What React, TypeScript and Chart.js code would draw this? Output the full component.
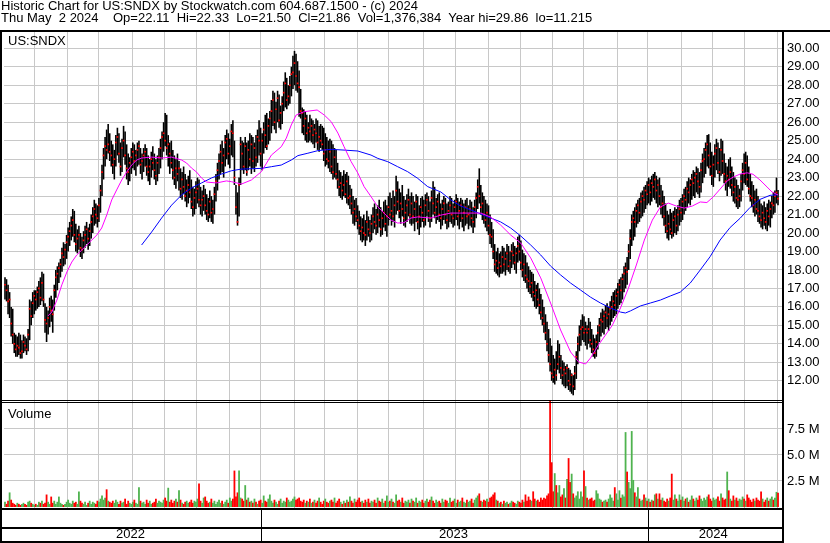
import React, { useEffect, useRef } from 'react';
import { Chart, registerables } from 'chart.js';

Chart.register(...registerables);

const FONT = "'Liberation Sans', Arial, Helvetica, sans-serif";

const headerLine1 = 'Historic Chart for US:SNDX by Stockwatch.com 604.687.1500 - (c) 2024';
const headerLine2 = 'Thu May  2 2024    Op=22.11  Hi=22.33  Lo=21.50  Cl=21.86  Vol=1,376,384  Year hi=29.86  lo=11.215';
const symbolLabel = 'US:SNDX';
const volumeLabel = 'Volume';

const highs = [
  17.6,17.5,17.2,16.8,16.0,15.9,14.6,14.5,14.4,14.6,
  14.5,14.2,14.5,14.4,14.3,14.8,16.4,16.3,16.8,16.9,
  16.9,17.1,17.4,17.6,17.9,17.8,16.2,16.0,15.8,16.5,
  16.6,16.4,17.2,18.0,18.2,18.4,18.6,19.2,19.5,19.4,
  19.9,20.3,20.6,20.9,21.3,21.2,20.5,20.2,20.4,20.0,
  19.8,20.1,20.4,20.6,20.3,20.5,21.0,21.4,21.8,21.6,
  21.5,21.9,22.6,23.7,24.6,25.2,25.6,25.9,25.4,25.0,
  24.8,24.5,25.3,25.7,25.4,24.9,25.1,25.8,25.5,24.8,
  24.3,24.1,24.6,24.9,24.8,24.5,24.9,25.0,24.6,24.3,
  24.6,24.8,24.6,24.2,24.0,24.4,24.7,24.3,24.0,24.2,
  24.6,25.1,25.5,26.0,26.5,26.4,25.3,24.9,25.0,24.5,
  24.2,24.0,24.3,23.9,23.5,23.3,23.6,23.2,22.9,23.1,
  23.4,22.9,22.5,22.4,22.8,23.0,22.9,22.5,22.3,22.6,
  22.4,22.1,21.9,22.3,22.0,21.8,22.5,23.2,23.8,24.3,
  24.8,25.0,24.6,25.3,25.6,25.4,25.1,25.9,26.1,25.0,
  22.6,22.2,23.0,25.2,25.0,24.9,25.2,24.9,25.0,25.4,
  25.3,25.2,24.9,25.3,25.6,26.1,25.7,25.4,26.0,26.4,
  26.5,26.2,26.6,27.2,27.7,27.6,27.1,27.7,27.5,26.9,
  27.4,28.2,28.7,28.4,28.0,28.5,29.0,29.6,29.86,29.7,
  29.3,28.8,27.8,26.8,26.7,26.6,26.4,26.0,26.4,26.2,
  26.1,25.9,26.2,26.1,25.8,25.9,25.8,25.7,25.4,25.2,
  25.0,25.1,25.0,24.8,24.6,24.5,23.8,23.4,23.3,23.1,
  23.4,23.2,23.3,23.1,22.6,22.4,22.0,21.8,21.9,21.5,
  21.2,20.9,20.8,21.0,20.7,21.2,20.9,20.7,21.0,21.4,
  21.6,21.3,21.5,21.8,21.4,21.2,21.7,21.8,21.5,22.0,
  22.2,21.9,22.3,22.0,23.1,22.8,22.4,22.2,22.6,22.0,
  21.8,22.1,22.4,22.0,22.2,22.0,21.7,22.1,22.0,21.5,
  21.9,22.0,21.8,22.1,22.2,22.0,21.7,22.3,22.8,22.5,
  21.9,22.1,22.2,21.6,21.8,22.0,21.9,21.6,21.7,22.0,
  21.9,21.6,21.8,22.1,21.9,21.7,21.9,21.8,21.6,21.8,
  21.9,21.5,21.8,21.7,21.4,21.8,22.2,22.9,23.5,22.6,
  22.2,22.0,21.8,21.6,21.5,21.0,20.6,20.2,19.4,19.0,
  19.2,18.9,19.0,19.3,19.2,19.0,19.4,19.3,19.0,19.4,
  19.5,19.3,19.2,19.8,19.9,19.6,19.1,18.9,18.8,18.4,
  18.2,18.0,17.9,17.8,17.4,17.2,17.3,17.0,16.7,16.4,
  16.0,15.6,15.2,14.8,14.3,13.9,13.4,13.2,13.6,14.2,
  14.0,13.4,13.1,13.0,12.8,12.9,12.7,12.6,12.4,12.3,
  12.8,13.6,14.4,15.0,15.3,15.6,15.5,15.2,15.0,15.4,
  15.2,14.8,14.5,14.3,14.5,15.0,15.4,15.7,15.9,15.8,
  16.1,16.2,16.0,16.3,16.6,16.8,16.9,17.0,17.3,17.5,
  17.6,17.8,18.2,18.4,18.7,19.4,20.2,21.0,21.2,21.4,
  21.6,21.8,21.9,22.2,22.3,22.5,22.6,22.8,23.0,22.9,
  23.1,23.2,23.3,23.1,22.9,23.0,22.6,22.3,22.0,21.6,
  21.2,21.0,21.3,21.1,21.2,21.4,21.3,21.5,21.8,21.9,
  22.1,22.4,22.5,22.8,23.0,22.9,23.2,23.4,23.3,23.6,
  23.5,23.3,23.8,24.3,24.6,24.9,25.3,25.35,24.9,24.4,
  24.2,24.8,25.1,24.9,24.6,25.1,25.0,24.3,23.8,23.6,
  24.0,24.1,23.6,23.3,23.0,22.9,22.6,22.4,23.2,23.8,
  24.3,24.4,24.2,23.6,23.2,22.8,22.6,22.3,22.4,22.0,
  21.8,21.6,21.5,21.7,21.4,21.6,21.8,21.7,22.0,22.2,
  22.3,23.0,22.33
];

const lows = [
  16.4,16.3,15.6,15.4,14.4,14.0,13.5,13.3,13.3,13.4,
  13.2,13.2,13.5,13.6,13.4,13.6,14.2,15.0,15.4,15.6,
  15.8,15.9,16.0,16.1,16.3,16.0,14.6,14.1,14.5,14.9,
  15.2,14.6,15.8,16.5,16.9,17.3,17.6,17.9,18.2,18.3,
  18.6,19.0,19.3,19.6,19.8,19.5,19.0,18.9,19.1,18.7,
  18.6,18.9,19.2,19.4,19.1,19.3,19.7,20.0,20.4,20.5,
  20.3,20.6,21.1,22.0,22.9,23.6,24.0,24.3,23.9,23.6,
  23.2,22.9,23.6,24.2,23.8,23.1,23.3,24.1,23.7,22.9,
  22.6,22.8,23.2,23.5,23.4,23.1,23.6,23.7,23.2,22.9,
  23.3,23.6,23.1,22.8,22.6,23.0,23.4,22.9,22.6,22.8,
  23.2,23.5,24.0,24.4,24.7,24.2,23.6,23.2,23.5,22.9,
  22.6,22.4,22.8,22.3,21.9,21.8,22.1,21.7,21.4,21.6,
  21.9,21.3,20.9,21.0,21.3,21.6,21.4,21.0,20.9,21.2,
  21.0,20.7,20.6,20.8,20.6,20.5,21.0,21.7,22.3,22.9,
  23.2,23.3,23.0,23.6,24.0,23.7,23.5,24.2,24.1,22.6,
  21.0,20.4,20.9,22.6,23.4,23.2,23.4,23.1,23.4,23.6,
  23.2,23.5,23.3,23.6,23.8,24.2,23.6,23.4,24.3,24.6,
  24.5,24.8,25.0,25.4,25.8,25.6,25.4,26.0,25.7,25.6,
  25.9,26.6,26.8,26.7,26.9,27.0,27.4,27.8,28.0,27.7,
  27.6,26.3,26.2,25.4,25.3,25.0,24.9,24.9,25.0,24.9,
  24.8,24.6,24.9,24.5,24.4,24.6,24.5,23.9,23.6,23.7,
  23.5,23.3,23.2,22.9,23.0,22.9,22.4,22.0,21.9,21.8,
  22.0,21.9,21.6,21.5,21.3,21.0,20.5,20.4,20.6,20.2,
  19.9,19.6,19.5,19.6,19.3,19.6,19.8,19.5,19.6,20.0,
  20.2,19.9,20.0,20.3,19.8,19.9,20.3,20.1,19.8,20.4,
  20.7,20.4,20.6,20.3,21.0,21.2,20.8,20.5,20.9,20.4,
  20.3,20.6,20.9,20.5,20.4,20.5,20.1,20.6,20.2,19.9,
  20.3,20.6,20.3,20.4,20.9,20.6,20.3,20.6,21.0,20.8,
  20.5,20.7,20.6,20.2,20.4,20.7,20.5,20.2,20.3,20.6,
  20.5,20.3,20.4,20.7,20.4,20.2,20.6,20.3,20.1,20.4,
  20.5,20.2,20.4,20.3,20.0,20.3,20.8,21.3,21.6,21.0,
  20.7,20.5,20.3,20.1,19.9,19.4,19.2,18.6,17.9,17.8,
  17.7,17.6,17.8,17.8,17.9,17.7,18.0,17.9,17.8,18.1,
  18.3,18.0,17.8,18.4,18.5,18.0,17.6,17.4,17.3,17.0,
  16.8,16.7,16.5,16.3,16.0,15.9,16.0,15.6,15.3,15.0,
  14.6,14.2,13.6,13.0,12.5,12.0,11.9,11.8,12.0,12.6,
  12.4,12.1,11.8,11.7,11.6,11.7,11.5,11.4,11.3,11.215,
  11.5,12.1,12.9,13.6,13.9,14.2,14.1,13.9,13.7,14.0,
  13.8,13.5,13.3,13.2,13.3,13.7,14.1,14.4,14.6,14.5,
  14.8,14.9,14.7,15.0,15.2,15.4,15.5,15.6,15.9,16.1,
  16.2,16.4,16.8,17.0,17.2,18.0,18.6,19.3,19.6,19.8,
  20.3,20.5,20.6,20.8,20.9,21.1,21.3,21.5,21.6,21.5,
  21.7,21.9,21.8,21.6,21.4,21.5,21.0,20.8,20.4,20.0,
  19.7,19.6,19.9,19.7,19.8,20.0,19.9,20.1,20.4,20.6,
  20.7,21.0,21.2,21.4,21.6,21.5,21.8,22.0,21.9,22.2,
  22.1,21.9,22.2,22.7,23.0,23.2,23.6,23.5,23.1,22.6,
  22.5,23.0,23.4,23.2,22.8,23.1,23.2,22.7,22.3,22.0,
  22.5,22.4,22.0,21.7,21.6,21.4,21.3,21.4,21.7,22.3,
  22.7,22.6,22.5,22.1,21.7,21.4,21.1,20.9,21.0,20.6,
  20.5,20.3,20.2,20.4,20.2,20.1,20.4,20.3,20.8,21.0,
  21.1,21.6,21.50
];

const closes = [
  17.2,16.9,16.3,16.4,15.1,14.5,14.0,13.7,13.9,13.8,
  13.5,13.6,14.1,13.9,13.7,14.5,15.9,15.5,16.2,16.6,
  16.4,16.8,17.0,16.5,17.3,16.4,15.3,15.1,15.4,16.0,
  15.8,15.6,16.9,17.6,17.8,18.1,18.3,18.9,18.7,19.1,
  19.5,19.8,20.1,20.4,20.7,19.9,19.4,19.7,19.9,19.2,
  19.1,19.6,19.9,20.2,19.7,20.1,20.6,20.9,21.3,21.0,
  20.8,21.5,22.3,23.3,24.2,24.7,24.5,24.8,24.4,24.2,
  23.7,24.0,24.9,25.2,24.3,23.6,24.6,25.0,24.2,23.5,
  23.3,23.8,24.1,24.4,23.9,24.2,24.5,24.7,23.7,23.9,
  24.2,24.4,23.6,23.3,23.6,24.0,23.8,23.4,23.1,23.8,
  24.1,24.6,25.2,25.4,25.0,24.6,24.8,24.3,23.8,23.4,
  23.0,23.5,23.2,23.5,22.4,22.9,22.5,22.0,22.3,22.6,
  22.2,21.7,21.4,21.9,22.2,22.4,21.8,21.5,21.8,22.0,
  21.5,21.2,21.0,21.7,21.1,21.3,22.1,22.8,23.4,23.9,
  24.4,23.8,24.2,24.9,25.1,24.3,24.7,25.5,25.4,23.0,
  21.4,20.6,22.6,24.8,24.3,23.6,24.7,23.3,24.5,24.0,
  24.8,23.9,24.6,24.1,25.2,25.0,24.3,25.0,25.6,25.3,
  24.7,25.8,26.2,26.6,27.2,26.0,26.7,27.3,26.1,26.5,
  27.0,27.6,28.1,27.2,27.4,28.0,28.6,28.7,29.2,28.5,
  28.1,27.9,26.6,26.5,25.8,26.2,25.4,25.7,25.5,25.8,
  25.3,25.6,25.4,24.9,25.2,25.0,24.8,24.3,24.5,24.0,
  23.9,24.4,23.6,23.3,24.1,23.2,22.9,22.5,22.7,22.3,
  22.6,22.1,22.8,21.9,22.0,21.6,21.1,21.3,20.9,20.7,
  20.4,20.1,20.3,20.0,19.9,20.6,20.2,20.0,20.5,20.9,
  20.6,20.4,21.0,20.7,20.2,20.8,21.1,20.5,20.9,21.4,
  21.0,21.2,20.9,21.5,22.3,21.7,21.2,21.6,21.3,20.8,
  21.1,21.5,21.8,21.0,21.6,20.9,21.3,21.7,20.6,20.9,
  21.4,21.1,20.7,21.5,21.8,21.2,20.8,21.9,21.6,21.1,
  21.4,21.7,21.0,20.8,21.3,21.6,21.0,20.7,21.2,21.5,
  21.0,20.8,21.4,21.7,20.9,21.2,21.5,20.8,21.1,21.4,
  20.9,21.0,21.3,20.8,20.6,21.4,21.9,22.5,22.0,21.4,
  21.6,21.0,20.7,21.1,20.4,19.9,19.8,19.0,18.3,18.5,
  18.1,18.4,18.2,18.7,18.3,18.6,18.9,18.2,18.5,19.0,
  18.8,18.4,18.9,19.3,19.0,18.4,18.0,18.3,17.7,17.5,
  17.4,17.1,17.3,16.8,16.6,16.9,16.4,16.1,15.7,15.4,
  15.1,14.6,14.0,13.4,12.9,12.4,12.2,12.6,12.3,12.9,
  13.3,12.7,12.3,12.6,12.4,12.7,12.0,11.8,12.3,11.7,
  12.4,13.3,14.0,14.5,14.8,14.9,14.6,14.8,14.6,14.8,
  14.2,14.0,13.7,13.5,14.1,14.6,15.0,15.3,15.2,15.5,
  15.7,15.4,15.6,15.9,16.0,16.3,16.1,16.6,16.8,17.2,
  16.9,17.5,17.8,18.1,17.9,19.0,19.7,20.6,20.8,20.6,
  21.2,21.5,21.1,21.7,22.0,21.8,22.3,22.1,22.6,22.2,
  22.7,22.5,22.9,22.3,22.6,22.0,21.4,21.6,20.9,20.4,
  20.1,20.5,20.2,20.0,20.7,20.9,20.4,21.0,21.3,21.1,
  21.7,22.0,21.8,22.4,22.2,22.6,22.9,22.7,23.0,23.2,
  22.8,22.5,23.4,23.9,24.0,24.5,24.8,24.2,23.6,23.1,
  23.7,24.3,24.6,23.8,23.3,24.5,23.9,23.2,22.8,23.1,
  22.9,23.3,22.6,22.2,22.5,21.9,21.8,22.0,22.8,23.4,
  23.2,23.8,22.9,22.4,22.0,21.9,21.5,21.8,21.3,21.2,
  20.9,20.7,21.1,20.8,20.6,21.2,20.9,21.3,21.6,21.5,
  22.0,22.2,21.86
];

const volumes = [
  0.5,0.3,0.6,1.4,0.7,0.4,0.3,0.2,0.4,0.3,
  0.2,0.3,0.4,0.3,0.2,0.5,0.6,0.4,0.3,0.2,
  0.3,0.2,0.5,0.4,0.6,0.3,0.4,1.2,0.5,0.3,
  1.0,0.4,0.6,0.3,0.5,1.0,0.4,0.3,0.2,0.3,
  0.5,0.7,0.4,0.3,0.6,0.4,0.5,0.3,1.5,0.6,
  0.4,0.3,0.5,0.2,0.4,0.6,0.3,0.5,0.4,0.3,
  0.6,0.5,0.8,1.1,0.7,0.9,1.7,0.6,0.5,0.4,
  0.6,0.4,0.7,0.5,0.3,0.6,0.4,0.5,0.8,0.3,
  0.6,0.4,0.3,0.5,0.7,0.4,0.3,1.9,0.6,0.4,
  0.5,0.3,0.7,0.4,0.6,0.3,0.4,0.5,0.8,0.4,
  0.6,0.5,0.4,0.7,0.9,0.6,1.85,0.5,0.7,0.4,
  0.6,0.8,0.5,1.6,0.7,0.4,0.3,0.5,0.6,0.4,
  0.5,0.7,0.4,0.6,0.5,0.8,2.25,0.6,0.4,0.9,
  1.0,0.6,0.4,0.5,0.8,0.4,0.6,0.3,0.5,0.7,
  0.4,0.6,0.3,0.5,0.7,0.4,0.9,0.6,0.8,3.5,
  1.0,1.4,3.5,0.9,0.8,0.6,2.1,0.7,0.9,0.5,
  0.6,0.4,0.8,0.5,0.3,0.6,0.7,0.4,1.1,0.6,
  0.5,0.8,1.2,0.6,0.4,0.7,0.5,0.3,0.6,0.8,
  0.4,0.6,0.5,0.9,0.7,0.5,0.6,0.8,1.0,0.7,
  0.8,0.9,0.6,0.5,0.7,0.4,0.6,0.5,0.8,0.4,
  0.5,0.7,0.4,0.6,0.9,0.5,0.3,0.6,0.8,0.5,
  0.4,0.6,0.7,0.5,0.9,0.4,0.6,0.8,0.5,0.3,
  0.6,0.4,0.7,0.5,1.0,0.6,0.4,0.8,0.5,0.7,
  0.9,0.5,0.6,0.4,0.7,0.5,0.8,0.4,0.6,0.5,
  0.7,0.4,0.9,0.6,0.5,0.8,0.4,0.6,1.1,0.5,
  0.6,0.8,0.5,0.4,1.2,0.6,0.7,0.5,0.9,0.4,
  0.6,0.5,0.7,0.4,0.8,0.6,0.5,0.9,0.4,0.6,
  0.5,0.7,0.4,0.6,0.8,0.5,0.7,1.0,0.6,0.4,
  0.7,0.5,0.6,0.4,0.8,0.5,0.7,0.6,0.4,0.9,
  0.5,0.6,0.8,0.4,0.7,0.5,0.6,0.9,0.5,0.4,
  0.7,0.5,0.6,0.8,0.4,0.7,0.9,1.1,1.3,0.6,
  0.5,0.7,0.6,0.8,0.5,0.9,1.0,1.2,1.4,0.7,
  0.6,0.4,0.5,0.3,0.6,0.4,0.5,0.3,0.4,0.6,
  0.5,0.4,0.3,0.6,0.5,0.4,0.7,0.5,1.2,0.6,
  1.0,0.7,0.6,1.5,0.8,0.6,0.7,0.5,0.9,0.7,
  0.9,0.8,1.1,1.3,10.3,4.3,1.5,3.25,2.1,1.4,
  2.1,1.0,1.2,1.8,0.9,2.7,4.7,2.4,3.2,1.3,
  0.9,1.1,1.5,0.8,1.5,1.0,3.5,2.0,0.9,0.7,
  0.8,0.9,0.6,0.7,1.6,1.3,0.8,0.7,0.5,0.6,
  0.7,0.5,0.8,1.2,0.9,0.6,1.9,1.3,0.7,1.6,
  0.9,1.2,1.0,7.2,3.4,2.4,1.8,7.3,2.6,1.4,
  1.0,1.9,0.8,0.6,0.7,1.2,0.9,0.6,0.8,0.5,
  0.7,0.6,1.2,1.3,0.8,1.3,0.7,0.9,0.6,0.5,
  0.8,0.6,0.9,3.2,0.7,1.2,0.8,0.6,1.2,0.7,
  1.0,0.6,0.8,0.9,0.5,0.7,1.1,0.8,0.6,0.9,
  0.7,1.1,0.8,0.6,0.9,0.7,1.0,1.2,0.8,0.6,
  0.9,0.7,0.8,1.0,0.6,1.3,0.9,0.7,0.8,3.4,
  1.6,0.8,0.6,1.1,0.7,0.9,0.6,0.8,0.7,1.0,
  0.8,0.6,1.2,0.9,0.7,0.5,0.8,0.6,0.9,0.7,
  0.6,1.5,0.8,0.5,0.7,0.9,0.6,0.8,1.0,0.7,
  0.9,1.45,1.38
];

// Short moving average (magenta): bar index / value
const maShortX = [27.9,30.4,33.7,36.9,40.2,43.4,46.6,49.9,53.1,56.4,59.6,62.8,66.1,69.3,72.5,75.8,79.0,82.3,85.5,88.7,95.2,101.7,108.2,114.7,117.9,121.1,124.4,127.6,130.8,137.3,143.8,147.0,153.5,160.0,166.5,173.0,179.4,182.7,185.9,189.1,194.3,202.7,207.3,211.8,216.2,220.2,224.8,229.1,233.2,237.7,242.1,246.1,250.7,255.0,259.1,263.6,268.0,276.6,283.1,289.5,296.0,302.5,309.0,315.5,321.9,328.4,334.9,341.4,347.9,354.3,360.8,367.3,372.5,377.0,380.2,385.4,390.0,394.5,399.7,404.9,410.0,415.2,420.4,425.6,430.8,436.0,441.1,446.3,451.5,455.8,459.9,464.4,469.0,472.9,477.4,481.9,485.8,490.3,494.9,498.1,502.0];
const maShortY = [15.51,15.72,16.37,17.19,17.89,18.43,18.81,19.08,19.35,19.62,19.89,20.27,20.98,21.79,22.33,22.87,23.30,23.68,23.95,24.06,24.11,24.06,24.11,23.95,23.79,23.52,23.30,22.98,22.76,22.71,22.82,22.78,22.65,22.87,23.32,24.22,24.67,25.14,25.85,26.39,26.57,26.66,26.39,26.03,25.41,24.67,23.86,23.25,22.51,21.97,21.42,21.08,20.70,20.54,20.56,20.81,20.87,20.81,20.97,21.08,21.08,21.08,21.08,20.86,20.43,19.89,19.46,18.65,17.57,16.21,14.75,13.56,13.02,12.91,13.23,13.94,14.48,15.02,15.94,17.02,18.27,19.62,20.70,21.41,21.62,21.46,21.35,21.46,21.68,21.65,21.95,22.38,22.82,23.03,23.19,23.26,23.18,22.87,22.49,22.22,22.06];

// Long moving average (blue)
const maLongX = [88.7,95.2,101.7,108.2,114.7,121.1,127.6,134.1,140.6,147.0,153.5,160.0,166.5,173.0,179.4,185.9,190.2,196.7,203.2,211.8,220.2,229.1,237.7,242.1,248.6,255.0,261.5,268.0,274.5,283.1,289.5,296.0,302.5,309.0,315.5,321.9,328.4,334.9,341.4,347.9,354.3,360.8,367.3,373.8,380.2,386.7,393.2,399.7,402.9,406.1,412.6,419.1,425.6,432.0,438.5,445.0,451.5,457.9,464.4,470.9,477.4,483.9,490.3,496.8,502.0];
const maLongY = [19.35,20.05,20.81,21.51,22.06,22.44,22.71,22.98,23.19,23.37,23.46,23.48,23.50,23.59,23.68,23.95,24.19,24.32,24.46,24.53,24.49,24.44,24.22,24.04,23.86,23.59,23.32,22.96,22.51,22.22,21.79,21.46,21.25,21.03,20.81,20.60,20.27,19.84,19.35,18.81,18.21,17.73,17.29,16.91,16.53,16.21,15.94,15.72,15.67,15.78,16.05,16.21,16.37,16.59,16.80,17.29,18.00,18.72,19.62,20.30,20.80,21.39,21.82,22.04,22.07];

const priceTicks = [12,13,14,15,16,17,18,19,20,21,22,23,24,25,26,27,28,29,30];
const volumeTicks = [2.5, 5, 7.5];
// month starts (bar index) for vertical grid lines
const monthStarts = [18.98,40.36,60.69,83.11,103.83,124.56,145.55,166.02,188.04,207.48,228.66,248.93,271.86,292.78,313.84,334.89,355.36,375.89,397.53,417.35,439.63,459.71,480.44,501.36];
const yearStarts = [166.02, 417.35];
const yearLabels = ['2022', '2023', '2024'];
const yearLabelAt = [81.5, 291.2, 459.9];

export default function App() {
  const ref = useRef<HTMLCanvasElement>(null);

  useEffect(() => {
    document.body.style.margin = '0';
    const canvas = ref.current;
    if (!canvas) return;

    const volColors = closes.map((c, i) => {
      const prev = i === 0 ? c - 1 : closes[i - 1];
      return c > prev ? '#4fb34f' : c < prev ? '#ff0000' : '#a0a0a0';
    });

    const framePlugin = {
      id: 'frame',
      afterDraw(chart: any) {
        const ctx = chart.ctx;
        const a = chart.chartArea;
        const xs = chart.scales.x;
        ctx.save();
        ctx.fillStyle = '#000';
        ctx.fillRect(0, 30, 830, 2);
        ctx.fillRect(0, 30, 2, 513);
        ctx.fillRect(a.right, 30, 2, 513);
        ctx.fillRect(2, 400, a.right - 2, 1);
        ctx.fillRect(2, 402, a.right - 2, 1);
        ctx.fillRect(0, a.bottom, a.right, 2);
        ctx.fillRect(0, 527, a.right, 2);
        ctx.fillRect(0, 541, a.right, 2);
        yearStarts.forEach((v) => {
          const px = Math.round(xs.getPixelForValue(v));
          ctx.fillRect(px, a.bottom, 1, 543 - a.bottom);
        });
        ctx.restore();
      },
    };

    const font = { family: FONT, size: 13 };
    const xMin = -0.648;
    const xMax = 504.59;

    const chart = new Chart(canvas, {
      type: 'bar',
      data: {
        datasets: [
          {
            type: 'line',
            data: maShortX.map((x, i) => ({ x, y: maShortY[i] })),
            borderColor: '#ff00ff',
            borderWidth: 1,
            pointRadius: 0,
            tension: 0,
            xAxisID: 'x',
            yAxisID: 'y',
            order: 0,
          } as any,
          {
            type: 'line',
            data: maLongX.map((x, i) => ({ x, y: maLongY[i] })),
            borderColor: '#0000ff',
            borderWidth: 1,
            pointRadius: 0,
            tension: 0,
            xAxisID: 'x',
            yAxisID: 'y',
            order: 0,
          } as any,
          {
            type: 'line',
            data: closes.map((c, i) => ({ x: i, y: c })),
            showLine: false,
            pointStyle: 'rect',
            pointRadius: 1.2,
            pointBorderWidth: 0,
            pointBackgroundColor: '#ff0000',
            xAxisID: 'x',
            yAxisID: 'y',
            order: 1,
          } as any,
          {
            type: 'bar',
            data: highs.map((h, i) => ({ x: i, y: [lows[i], h] })),
            backgroundColor: '#000000',
            barThickness: 1.6,
            grouped: false,
            inflateAmount: 0,
            xAxisID: 'x',
            yAxisID: 'y',
            order: 2,
          } as any,
          {
            type: 'bar',
            data: volumes.map((v, i) => ({ x: i, y: v })),
            backgroundColor: volColors,
            barThickness: 1.8,
            grouped: false,
            inflateAmount: 0,
            xAxisID: 'x',
            yAxisID: 'yv',
            order: 3,
          } as any,
        ],
      },
      options: {
        responsive: false,
        animation: false,
        events: [],
        layout: { padding: { left: 2, top: 32, right: 0, bottom: 0 } },
        plugins: { legend: { display: false }, tooltip: { enabled: false }, title: { display: false } },
        scales: {
          y: {
            type: 'linear',
            position: 'right',
            stack: 'panels',
            stackWeight: 368,
            min: 10.96,
            max: 30.8824,
            afterBuildTicks: (s: any) => { s.ticks = priceTicks.map((v) => ({ value: v })); },
            afterFit: (s: any) => { s.width = 48; },
            grid: { color: '#c8c8c8', lineWidth: 1, drawTicks: false },
            border: { display: false },
            ticks: { padding: 5, color: '#000', font, autoSkip: false, callback: (v: any) => Number(v).toFixed(2) },
          },
          yv: {
            type: 'linear',
            position: 'right',
            stack: 'panels',
            stackWeight: 108,
            min: -0.0962,
            max: 10.288,
            afterBuildTicks: (s: any) => { s.ticks = volumeTicks.map((v) => ({ value: v })); },
            afterFit: (s: any) => { s.width = 48; },
            grid: { color: '#c8c8c8', lineWidth: 1, drawTicks: false },
            border: { display: false },
            ticks: { padding: 5, color: '#000', font, autoSkip: false, callback: (v: any) => Number(v).toFixed(1) + ' M' },
          },
          x: {
            type: 'linear',
            position: 'bottom',
            offset: false,
            min: xMin,
            max: xMax,
            afterBuildTicks: (s: any) => { s.ticks = monthStarts.map((v) => ({ value: v })); },
            afterFit: (s: any) => { s.height = 0; },
            grid: { color: '#c8c8c8', lineWidth: 1, drawTicks: false, offset: false },
            border: { display: false },
            ticks: { display: false },
          },
          xYear: {
            type: 'linear',
            position: 'bottom',
            offset: false,
            min: xMin,
            max: xMax,
            afterBuildTicks: (s: any) => { s.ticks = yearLabelAt.map((v) => ({ value: v })); },
            afterFit: (s: any) => { s.height = 35; },
            grid: { display: false, drawTicks: false, offset: false },
            border: { display: false },
            ticks: {
              padding: 19,
              color: '#000',
              font,
              autoSkip: false,
              maxRotation: 0,
              callback: (_v: any, i: number) => yearLabels[i],
            },
          },
        },
      } as any,
      plugins: [framePlugin],
    });

    return () => chart.destroy();
  }, []);

  const textStyle: React.CSSProperties = {
    position: 'absolute',
    fontFamily: FONT,
    fontSize: '13px',
    color: '#000',
    whiteSpace: 'pre',
    margin: 0,
  };

  return (
    <div style={{ position: 'relative', width: 830, height: 543, background: '#fff', overflow: 'hidden' }}>
      <canvas ref={ref} width={830} height={543} style={{ display: 'block', width: 830, height: 543 }} />
      <div style={{ ...textStyle, left: 1, top: 0, lineHeight: '12px' }}>
        <div>{headerLine1}</div>
        <div>{headerLine2}</div>
      </div>
      <div style={{ ...textStyle, left: 8, top: 34, lineHeight: '13px' }}>{symbolLabel}</div>
      <div style={{ ...textStyle, left: 8, top: 407, lineHeight: '13px' }}>{volumeLabel}</div>
    </div>
  );
}
